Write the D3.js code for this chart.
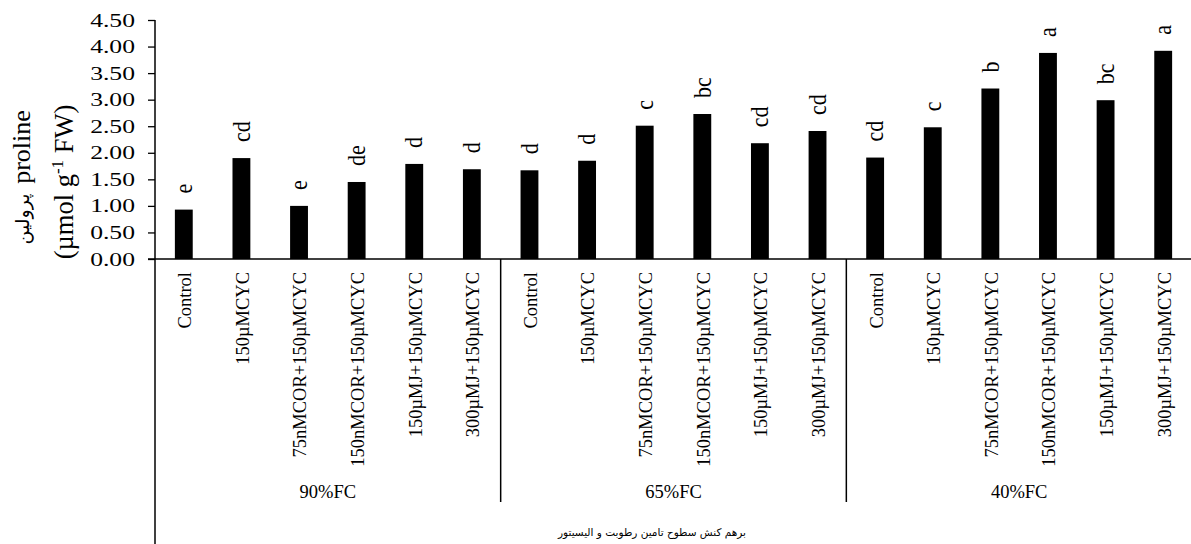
<!DOCTYPE html>
<html><head><meta charset="utf-8">
<script src="https://cdn.jsdelivr.net/npm/d3@7"></script>
<style>
html,body{margin:0;padding:0;background:#fff;}
svg{display:block;font-family:"Liberation Serif","Times New Roman",serif;}
</style></head>
<body>
<svg id="chart" width="1191" height="544"></svg>
<script>
const groups = ["90%FC", "65%FC", "40%FC"];
const treatments = ["Control", "150µMCYC", "75nMCOR+150µMCYC", "150nMCOR+150µMCYC", "150µMJ+150µMCYC", "300µMJ+150µMCYC"];
const values = [0.93, 1.90, 1.00, 1.45, 1.79, 1.69,
                1.67, 1.85, 2.51, 2.73, 2.18, 2.41,
                1.91, 2.48, 3.21, 3.88, 2.99, 3.92];
const letters = ["e", "cd", "e", "de", "d", "d",
                 "d", "d", "c", "bc", "cd", "cd",
                 "cd", "c", "b", "a", "bc", "a"];
const yTicks = [0, 0.5, 1, 1.5, 2, 2.5, 3, 3.5, 4, 4.5];
const yTitleFa = "پرولین";
const yTitleEn = "proline";
const xTitle = "برهم کنش سطوح تامین رطوبت و الیسیتور";

const data = [];
groups.forEach((g, gi) => treatments.forEach((t, ti) => {
  const i = gi * treatments.length + ti;
  data.push({id: i, group: g, treatment: t, value: values[i], letter: letters[i]});
}));

const svg = d3.select("#chart");
const serif = "Liberation Serif";
const x0 = 155, x1 = 1192, yTop = 20, yBase = 259;
const x = d3.scaleBand().domain(data.map(d => d.id)).range([x0, x1]).paddingInner(0.69).paddingOuter(0.345);
const y = d3.scaleLinear().domain([0, 4.5]).range([yBase, yTop]);

// bars
svg.append("g").selectAll("rect").data(data).join("rect")
  .attr("x", d => x(d.id)).attr("width", x.bandwidth())
  .attr("y", d => y(d.value)).attr("height", d => y(0) - y(d.value))
  .attr("fill", "#000");

// letters (rotated, reading bottom to top)
svg.append("g").attr("class", "letters").selectAll("text").data(data).join("text")
  .attr("transform", d => `translate(${x(d.id) + x.bandwidth()/2},${y(d.value) - 16}) scale(1.1,1) rotate(-90)`)
  .attr("x", 0).attr("y", 0)
  .attr("dy", "0.34em").attr("text-anchor", "start")
  .attr("font-family", serif).attr("font-size", 22).attr("fill", "#000")
  .text(d => d.letter);

// y axis
const yAxis = d3.axisLeft(y).tickValues(yTicks).tickFormat(d3.format(".2f")).tickSize(7);
const ya = svg.append("g").attr("transform", `translate(${x0},0)`).call(yAxis);
ya.select(".domain").remove();
ya.selectAll(".tick line").attr("stroke", "#000").attr("stroke-width", 1.3);
ya.selectAll(".tick text").attr("x", 0).attr("transform", "translate(-20,0) scale(1.35,1)")
  .attr("text-anchor", "end")
  .attr("font-size", 19).attr("font-family", serif).attr("fill", "#000");
svg.append("line").attr("x1", x0).attr("x2", x0).attr("y1", yTop).attr("y2", 544)
  .attr("stroke", "#000").attr("stroke-width", 1.5);

// x axis
svg.append("line").attr("x1", x0 - 7).attr("x2", 1191).attr("y1", yBase).attr("y2", yBase)
  .attr("stroke", "#000").attr("stroke-width", 1.5);
const xAxis = d3.axisBottom(x).tickSize(0).tickFormat(i => data[i].treatment);
const xa = svg.append("g").attr("transform", `translate(0,${yBase})`).call(xAxis);
xa.select(".domain").remove();
xa.selectAll(".tick text")
  .attr("transform", "translate(1,13) scale(1.05,1) rotate(-90)")
  .attr("text-anchor", "end").attr("x", 0).attr("y", 0).attr("dy", "0.33em")
  .attr("font-size", 18.5).attr("font-family", serif).attr("fill", "#000");

// group dividers and labels
const per = treatments.length;
groups.forEach((g, gi) => {
  const first = gi * per, last = first + per - 1;
  const left = x(first) - x.step() * x.paddingInner() / 2;
  const right = x(last) + x.bandwidth() + x.step() * x.paddingInner() / 2;
  if (gi > 0) {
    svg.append("line").attr("x1", left).attr("x2", left).attr("y1", yBase).attr("y2", 502)
      .attr("stroke", "#000").attr("stroke-width", 1.5);
  }
  svg.append("text").attr("x", (Math.max(left, x0) + Math.min(right, x1)) / 2).attr("y", 498)
    .attr("text-anchor", "middle").attr("font-family", serif).attr("font-size", 18.5).text(g);
});

// x title
svg.append("text").attr("x", 652).attr("y", 536).attr("text-anchor", "middle")
  .attr("font-family", "DejaVu Sans").attr("font-size", 10.5).text(xTitle);

// y title
svg.append("text").attr("transform", "translate(30,147) rotate(-90)")
  .attr("text-anchor", "middle").attr("font-family", serif).attr("font-size", 26).text(yTitleEn);
svg.append("text").attr("transform", "translate(29,219) rotate(-90)")
  .attr("text-anchor", "middle").attr("font-family", "DejaVu Sans").attr("font-size", 19).text(yTitleFa);
const yt2 = svg.append("text").attr("transform", "translate(73,182) rotate(-90)")
  .attr("text-anchor", "middle").attr("font-family", serif).attr("font-size", 26.5);
yt2.append("tspan").text("(µmol g");
yt2.append("tspan").attr("font-size", 17).attr("dy", -10).text("-1");
yt2.append("tspan").attr("dy", 10).text(" FW)");
</script>
</body></html>
